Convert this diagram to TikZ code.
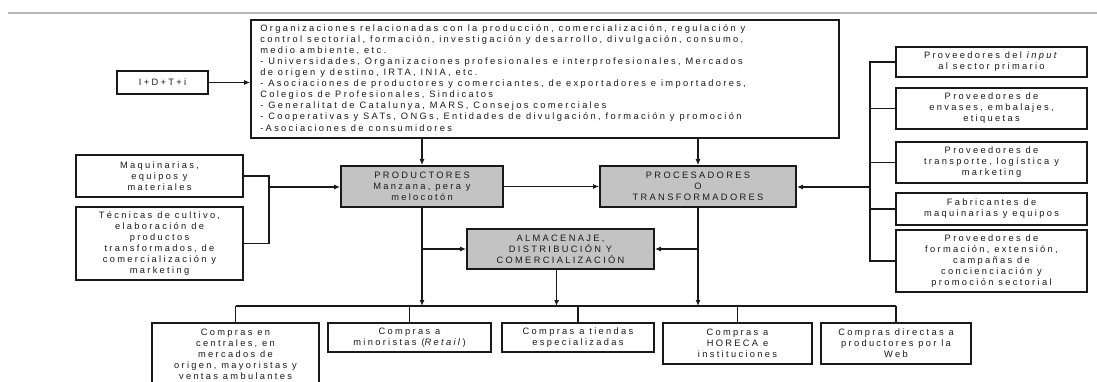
\documentclass[tikz,border=0pt]{standalone}
\usepackage{fontspec}
\setmainfont{Liberation Sans}[LetterSpace=25]
\usetikzlibrary{arrows.meta}
\definecolor{boxgray}{HTML}{C3C3C3}
\definecolor{txtcol}{HTML}{1A1A1A}
\definecolor{rulegray}{HTML}{B8B8B8}
\begin{document}
\begin{tikzpicture}[x=1pt,y=-1pt,
  box/.style={draw=black!90, line width=1.8pt, rectangle, inner sep=0pt, align=center,
    text=txtcol, font=\fontsize{9.3}{11}\selectfont},
  mainbox/.style={box, fill=boxgray},
  txtnode/.style={inner sep=0pt, align=left, text=txtcol, font=\fontsize{9.3}{11.1}\selectfont},
  conn/.style={line width=1.5pt, draw=black!90},
  arr/.style={conn, -{Latex[length=6pt,width=5pt]}}]
\useasboundingbox (0,0) rectangle (1097,381);
\clip (0,0) rectangle (1097,381);
% top rule
\draw[rulegray, line width=2pt] (8,13) -- (1097,13);
% top box
\node[box, minimum width=588, minimum height=118] (top) at (545,79) {};
\node[txtnode, anchor=north west] (toptxt) at ([xshift=10pt,yshift=-5pt]top.north west) {Organizaciones relacionadas con la producción, comercialización, regulación y\\
control sectorial, formación, investigación y desarrollo, divulgación, consumo,\\
medio ambiente, etc.\\
- Universidades, Organizaciones profesionales e interprofesionales, Mercados\\
de origen y destino, IRTA, INIA, etc.\\
- Asociaciones de productores y comerciantes, de exportadores e importadores,\\
Colegios de Profesionales, Sindicatos\\
- Generalitat de Catalunya, MARS, Consejos comerciales\\
- Cooperativas y SATs, ONGs, Entidades de divulgación, formación y promoción\\
-Asociaciones de consumidores};
\node[box, minimum width=91, minimum height=23] (idti) at (162.5,82.5) {I+D+T+i};
% main boxes
\node[mainbox, minimum width=162, minimum height=41] (prod) at (422,186.5) {PRODUCTORES\\Manzana, pera y\\melocotón};
\node[mainbox, minimum width=196, minimum height=41] (proc) at (698,186.5) {PROCESADORES\\O\\TRANSFORMADORES};
\node[mainbox, minimum width=187, minimum height=40] (alm) at (560.5,249) {ALMACENAJE,\\DISTRIBUCIÓN Y\\COMERCIALIZACIÓN};
% left boxes
\node[box, minimum width=167, minimum height=42] (maq) at (159.5,176) {Maquinarias,\\equipos y\\materiales};
\node[box, minimum width=167, minimum height=73] (tec) at (159.5,243.5) {Técnicas de cultivo,\\elaboración de\\productos\\transformados, de\\comercialización y\\marketing};
% right boxes
\node[box, minimum width=191, minimum height=30] (r1) at (991.5,62) {Proveedores del \textit{input}\\al sector primario};
\node[box, minimum width=191, minimum height=41] (r2) at (991.5,108.5) {Proveedores de\\envases, embalajes,\\etiquetas};
\node[box, minimum width=191, minimum height=41] (r3) at (991.5,162.5) {Proveedores de\\transporte, logística y\\marketing};
\node[box, minimum width=191, minimum height=32] (r4) at (991.5,209) {Fabricantes de\\maquinarias y equipos};
\node[box, minimum width=191, minimum height=62] (r5) at (991.5,261) {Proveedores de\\formación, extensión,\\campañas de\\concienciación y\\promoción sectorial};
% bottom boxes
\node[box, minimum width=167, minimum height=62] (b1) at (235.5,354) {Compras en\\centrales, en\\mercados de\\origen, mayoristas y\\ventas ambulantes};
\node[box, minimum width=163, minimum height=29] (b2) at (409.5,337.5) {Compras a\\minoristas (\textit{Retail})};
\node[box, minimum width=152, minimum height=29] (b3) at (578,337.5) {Compras a tiendas\\especializadas};
\node[box, minimum width=149, minimum height=41] (b4) at (737.5,343.5) {Compras a\\HORECA e\\instituciones};
\node[box, minimum width=150, minimum height=41] (b5) at (896,343.5) {Compras directas a\\productores por la\\Web};
% coordinates
\coordinate (lb) at (269,187);
\coordinate (rb) at (870,187);
\coordinate (bus) at (0,306);
% connectors
\draw[arr] (idti.east) -- (idti.east -| top.west);
\draw[arr] (prod.north |- top.south) -- (prod.north);
\draw[arr] (proc.north |- top.south) -- (proc.north);
\draw[conn] (maq.east) -| (lb) |- (tec.east);
\draw[arr] (lb) -- (lb -| prod.west);
\draw[conn] (r1.west) -| (rb) |- (r5.west);
\draw[conn] (r2.west) -- (r2.west -| rb);
\draw[conn] (r3.west) -- (r3.west -| rb);
\draw[conn] (r4.west) -- (r4.west -| rb);
\draw[arr] (rb) -- (rb -| proc.east);
\draw[arr] (prod.east) -- (prod.east -| proc.west);
\draw[arr] (prod.south) -- (prod.south |- bus);
\draw[arr] (prod.south |- alm.west) -- (alm.west);
\draw[arr] (proc.south) -- (proc.south |- bus);
\draw[arr] (proc.south |- alm.east) -- (alm.east);
\draw[arr] ([xshift=-4pt]alm.south) -- ([xshift=-4pt]alm.south |- bus);
\draw[conn] (b1.north |- bus) -- (b5.north |- bus);
\draw[conn] (b1.north |- bus) -- (b1.north);
\draw[conn] (b2.north |- bus) -- (b2.north);
\draw[conn] (b3.north |- bus) -- (b3.north);
\draw[conn] (b4.north |- bus) -- (b4.north);
\draw[conn] (b5.north |- bus) -- (b5.north);
\end{tikzpicture}
\end{document}
